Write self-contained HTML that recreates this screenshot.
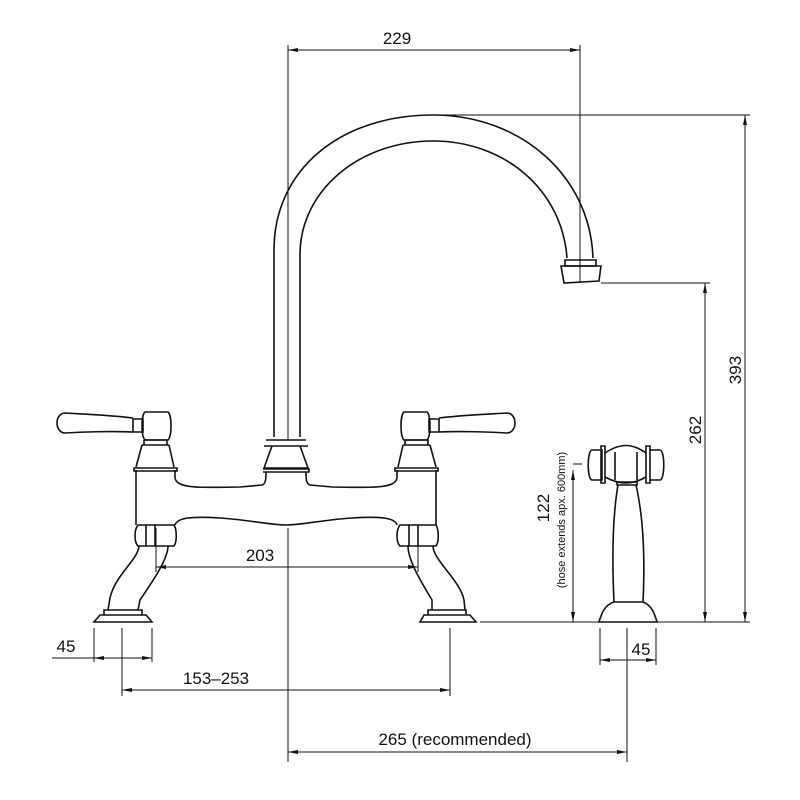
<!DOCTYPE html>
<html><head><meta charset="utf-8"><style>
html,body{margin:0;padding:0;background:#fff}
svg{display:block}
text{font-family:"Liberation Sans",sans-serif;fill:#111}
</style></head><body>
<svg width="800" height="800" viewBox="0 0 800 800" xmlns="http://www.w3.org/2000/svg">
<defs>
<marker id="a" viewBox="0 0 10 4" refX="10" refY="2" markerWidth="12" markerHeight="4" orient="auto-start-reverse" markerUnits="userSpaceOnUse"><path d="M0,0 L10,2 L0,4z" fill="#111"/></marker>
</defs>
<g fill="none" stroke="#111" stroke-width="1.6">
<path d="M274,437 L274,250 C274,170 340,115 433,115 C520,115 590,175 593,258"/>
<path d="M300,437 L300,255 C300,190 360,141 433,141 C505,141 562,190 567,258"/>
<path d="M565,260 L596,260 L596,266 L565,266 Z"/>
<path d="M561,266 L601,266 L599,281 L564,283 Z"/>
<path d="M266,440 L306,440 M264,446 L308,446 M272,446 L264,468 L308,468 L300,446"/>
<path d="M263,469 L309,469 L309,472 L263,472"/>
<path d="M175,470 L175,478 C177,488 195,488 240,487 L262,485 C266,484 266,478 266,472"/>
<path d="M306,472 C306,478 306,484 310,485 L332,487 C377,488 395,488 397,478 L397,470"/>
<path d="M136,470 L136,525 M175,525 C177,518 190,516 220,518 C250,520 270,525 286,525 C302,525 322,520 352,518 C382,516 395,518 397,525 M436,470 L436,525"/>
<path d="M134,468 L177,468 L177,471 L134,471 Z M395,468 L438,468 L438,471 L395,471 Z"/>
<path d="M142,445 L136,467 M169,445 L174,467 M142,445 L169,445 M144,440 L167,440 L167,445 M144,440 L144,445"/>
<path d="M145,412 L168,412 C172,415 172,436 168,440 L145,440 C141,436 141,415 145,412 Z"/>
<path d="M133,419 L143,419 L143,432 L133,432 Z"/>
<path d="M133,418 C110,415 80,414 65,413 C60,413 57,418 57,423 C57,428 60,433 65,433 C80,432 110,431 133,432"/>
<path d="M430,445 L436,467 M403,445 L398,467 M403,445 L430,445 M405,440 L428,440 L428,445 M405,440 L405,445"/>
<path d="M404,412 L427,412 C431,415 431,436 427,440 L404,440 C400,436 400,415 404,412 Z"/>
<path d="M429,419 L439,419 L439,432 L429,432 Z"/>
<path d="M439,418 C462,415 492,414 507,413 C512,413 515,418 515,423 C515,428 512,433 507,433 C492,432 462,431 439,432"/>
<path d="M138,525 L174,525 C177,530 177,542 174,546 L138,546 C134,542 134,530 138,525 Z M155,525 L155,546 M146,525 L146,546"/>
<path d="M400,525 L436,525 C439,530 439,542 436,546 L400,546 C396,542 396,530 400,525 Z M418,525 L418,546 M409,525 L409,546"/>
<path d="M139,546 C138,560 115,575 110,598 L108,610 M168,546 C168,560 150,585 140,600 L138,610"/>
<path d="M408,546 C408,560 420,580 432,600 L432,610 M433,546 C433,560 460,580 464,600 L465,610"/>
<path d="M104,610 L142,610 L142,615 L104,615 Z M100,615 L146,615 L152,622 L94,622 Z"/>
<path d="M428,610 L466,610 L466,615 L428,615 Z M424,615 L470,615 L476,622 L420,622 Z"/>
<path d="M592,450 C587,450 587,480 592,480 L602,480 L602,450 Z"/>
<path d="M601,446 L605,446 L605,483 L601,483 Z M646,446 L650,446 L650,483 L646,483 Z"/>
<path d="M605,453 C620,443 632,443 646,453 M605,477 C620,485 632,485 646,477 M615,452 L615,480 M637,452 L637,480"/>
<path d="M650,450 L660,450 C665,450 665,480 660,480 L650,480"/>
<path d="M617,482 L637,482 L637,485 L617,485 Z"/>
<path d="M618,485 C612,520 612,560 614,602 M636,485 C644,520 645,560 643,602"/>
<path d="M614,602 L643,602 C652,605 655,615 657,622 L599,622 C601,615 604,605 614,602 Z"/>
</g>
<g fill="none" stroke="#111" stroke-width="1">
<line x1="288" y1="45" x2="288" y2="440"/>
<line x1="580" y1="45" x2="580" y2="283"/>
<line x1="288" y1="50" x2="580" y2="50" marker-start="url(#a)" marker-end="url(#a)"/>
<line x1="433" y1="115" x2="750" y2="115"/>
<line x1="480" y1="622" x2="750" y2="622"/>
<line x1="745" y1="115" x2="745" y2="622" marker-start="url(#a)" marker-end="url(#a)"/>
<line x1="601" y1="283" x2="710" y2="283"/>
<line x1="705" y1="283" x2="705" y2="622" marker-start="url(#a)" marker-end="url(#a)"/>
<line x1="573" y1="464" x2="582" y2="464"/>
<line x1="573" y1="470" x2="573" y2="622" marker-start="url(#a)" marker-end="url(#a)"/>
<line x1="156" y1="528" x2="156" y2="572"/>
<line x1="418" y1="528" x2="418" y2="572"/>
<line x1="156" y1="567" x2="418" y2="567" marker-start="url(#a)" marker-end="url(#a)"/>
<line x1="288" y1="528" x2="288" y2="762"/>
<line x1="94" y1="628" x2="94" y2="662"/>
<line x1="152" y1="628" x2="152" y2="662"/>
<line x1="122" y1="628" x2="122" y2="696"/>
<line x1="52" y1="658" x2="94" y2="658"/>
<line x1="94" y1="658" x2="152" y2="658" marker-start="url(#a)" marker-end="url(#a)"/>
<line x1="450" y1="628" x2="450" y2="696"/>
<line x1="122" y1="690" x2="450" y2="690" marker-start="url(#a)" marker-end="url(#a)"/>
<line x1="600" y1="628" x2="600" y2="665"/>
<line x1="656" y1="628" x2="656" y2="665"/>
<line x1="627" y1="628" x2="627" y2="762"/>
<line x1="600" y1="660" x2="656" y2="660" marker-start="url(#a)" marker-end="url(#a)"/>
<line x1="288" y1="752" x2="627" y2="752" marker-start="url(#a)" marker-end="url(#a)"/>
</g>
<g font-size="17">
<text x="397" y="44" text-anchor="middle">229</text>
<text x="260" y="561" text-anchor="middle">203</text>
<text x="66" y="652" text-anchor="middle">45</text>
<text x="641" y="655" text-anchor="middle">45</text>
<text x="216" y="684" text-anchor="middle">153–253</text>
<text x="455" y="745" text-anchor="middle">265 (recommended)</text>
<text transform="translate(741,370) rotate(-90)" text-anchor="middle">393</text>
<text transform="translate(701,430) rotate(-90)" text-anchor="middle">262</text>
<text transform="translate(549,508) rotate(-90)" text-anchor="middle">122</text>
</g>
<text transform="translate(565,520) rotate(-90)" text-anchor="middle" font-size="11">(hose extends apx. 600mm)</text>
</svg>
</body></html>
